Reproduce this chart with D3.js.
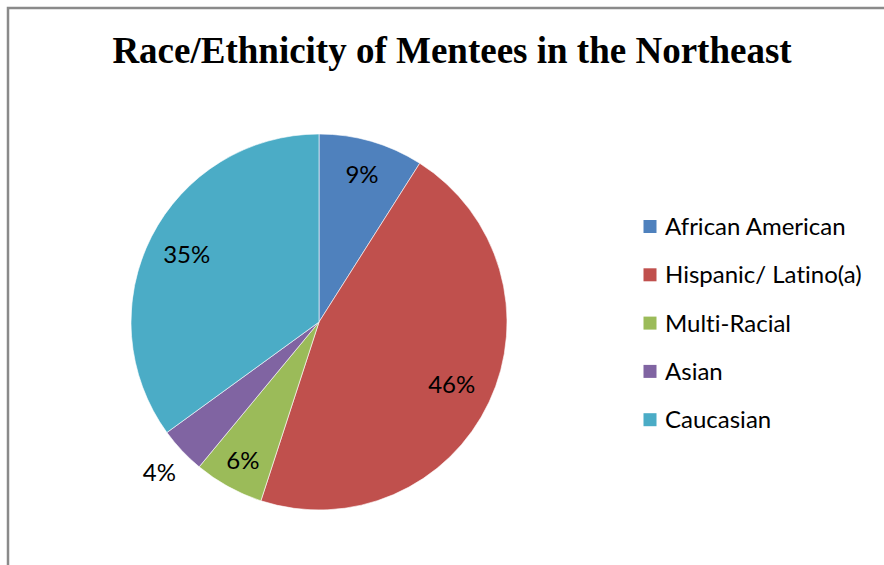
<!DOCTYPE html>
<html>
<head>
<meta charset="utf-8">
<script src="https://cdn.jsdelivr.net/npm/d3@7"></script>
<style>
  body { margin: 0; background: #fff; }
  svg { display: block; }
  text { font-variant-ligatures: none; }
</style>
</head>
<body>
<svg id="chart" width="884" height="565"></svg>
<script>
var categories = ["African American", "Hispanic/ Latino(a)", "Multi-Racial", "Asian", "Caucasian"];
var values = [9, 46, 6, 4, 35];
var labels = ["9%", "46%", "6%", "4%", "35%"];
var colors = ["#4F81BD", "#C0504D", "#9BBB59", "#8064A2", "#4BACC6"];

var width = 884, height = 565;
var cx = 319, cy = 322, radius = 188;

var svg = d3.select("#chart");

// chart frame (only top and left edges are in view)
svg.append("rect")
    .attr("x", 8).attr("y", 8)
    .attr("width", 900).attr("height", 600)
    .attr("fill", "none")
    .attr("stroke", "#8a8a8a")
    .attr("stroke-width", 2.5);

svg.append("text")
    .attr("x", 452).attr("y", 63)
    .attr("text-anchor", "middle")
    .attr("font-family", "Liberation Serif, Times New Roman, serif")
    .attr("font-weight", "bold")
    .attr("font-size", 37)
    .attr("fill", "#000")
    .text("Race/Ethnicity of Mentees in the Northeast");

var pie = d3.pie().sort(null).value(function(d) { return d; });
var arcs = pie(values);
var arc = d3.arc().innerRadius(0).outerRadius(radius);

var g = svg.append("g").attr("transform", "translate(" + cx + "," + cy + ")");

g.selectAll("path")
    .data(arcs)
    .enter()
    .append("path")
    .attr("d", arc)
    .attr("fill", function(d, i) { return colors[i]; })
    .attr("stroke", "#fff")
    .attr("stroke-width", 0.6);

// label distance per slice, as a fraction of the radius (the 4% one sits outside)
var labelR = [0.82, 0.78, 0.84, 1.165, 0.79];
g.selectAll("text.lbl")
    .data(arcs)
    .enter()
    .append("text")
    .attr("class", "lbl")
    .attr("transform", function(d, i) {
        var a = (d.startAngle + d.endAngle) / 2;
        var r = radius * labelR[i];
        return "translate(" + (Math.sin(a) * r) + "," + (-Math.cos(a) * r) + ")";
    })
    .attr("text-anchor", "middle")
    .attr("dy", "0.36em")
    .attr("font-family", "Lato, Open Sans, sans-serif")
    .attr("font-size", 24)
    .attr("fill", "#000")
    .text(function(d, i) { return labels[i]; });

var legend = svg.append("g").attr("transform", "translate(643.5,226.5)");
var rowH = 48.3;
var items = legend.selectAll("g")
    .data(categories)
    .enter()
    .append("g")
    .attr("transform", function(d, i) { return "translate(0," + (i * rowH) + ")"; });

items.append("rect")
    .attr("x", 0).attr("y", -6.5)
    .attr("width", 13).attr("height", 13)
    .attr("fill", function(d, i) { return colors[i]; });

items.append("text")
    .attr("x", 21.5).attr("y", 0)
    .attr("dy", "0.36em")
    .attr("font-family", "Lato, Open Sans, sans-serif")
    .attr("font-size", 24)
    .attr("fill", "#000")
    .text(function(d) { return d; });
</script>
</body>
</html>
